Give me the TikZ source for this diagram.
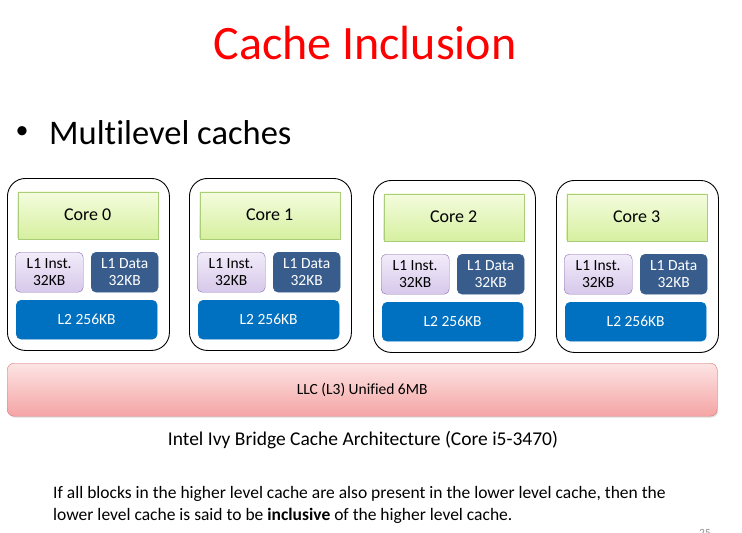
\documentclass[tikz,border=0pt]{standalone}
\usepackage{fontspec}
\setmainfont{Carlito}[Ligatures={NoCommon}]
\usetikzlibrary{shadows}
\definecolor{titlered}{RGB}{255,0,0}
\definecolor{coregreenA}{RGB}{244,252,222}
\definecolor{coregreenB}{RGB}{214,240,160}
\definecolor{coregreenD}{RGB}{170,205,120}
\definecolor{instA}{RGB}{242,236,250}
\definecolor{instB}{RGB}{214,200,234}
\definecolor{instD}{RGB}{140,110,175}
\definecolor{datablue}{RGB}{56,92,140}
\definecolor{ltwoblue}{RGB}{0,112,192}
\definecolor{llcA}{RGB}{253,228,228}
\definecolor{llcB}{RGB}{245,164,164}
\definecolor{llcD}{RGB}{215,120,120}
\tikzset{
  corebox/.style={draw=black, line width=0.9pt, rounded corners=18pt, anchor=north west,
    minimum width=162pt, minimum height=172pt, inner sep=0pt},
  cpubox/.style={draw=coregreenD, top color=coregreenA, bottom color=coregreenB, anchor=north west,
    minimum width=140pt, minimum height=47pt, inner sep=0pt, font=\fontsize{18}{20}\selectfont},
  smalltext/.style={font=\fontsize{15.5}{17}\selectfont},
  instbox/.style={draw=instD, top color=instA, bottom color=instB, rounded corners=5pt, anchor=north west,
    minimum width=68pt, minimum height=40pt, inner sep=0pt, align=center, smalltext},
  databox/.style={draw=datablue, fill=datablue, text=white, rounded corners=5pt, anchor=north west,
    minimum width=67pt, minimum height=40pt, inner sep=0pt, align=center, smalltext},
  ltwobox/.style={draw=ltwoblue, fill=ltwoblue, text=white, rounded corners=5pt, anchor=north west,
    minimum width=141pt, minimum height=39pt, inner sep=0pt, smalltext},
  llcbox/.style={draw=llcD, top color=llcA, bottom color=llcB, rounded corners=7pt, anchor=north west,
    minimum width=710pt, minimum height=53pt, inner sep=0pt, smalltext,
    drop shadow={shadow xshift=1pt, shadow yshift=-1.5pt, opacity=0.25}},
}
\begin{document}
\begin{tikzpicture}[x=1pt, y=-1pt]
\useasboundingbox (0,0) rectangle (742,533);
% heading and bullet
\node[text=titlered, font=\fontsize{48}{52}\selectfont] (title) at (365,43) {Cache Inclusion};
\node[font=\fontsize{26}{30}\selectfont] (dot) at (22,133) {\textbullet};
\node[anchor=west, inner sep=0pt, font=\fontsize{34.5}{38}\selectfont] (bullet) at (49,133) {Multilevel caches};
% four cores, each with its private L1 and L2
\foreach \i/\x/\y in {0/7/178, 1/189/178, 2/373/180, 3/556/180}{
  \node[corebox] (core\i) at (\x,\y) {};
  \node[cpubox] (cpu\i) at (\x+10.5,\y+13.5) {Core \i};
  \node[instbox] (inst\i) at (\x+8,\y+74) {L1 Inst.\\32KB};
  \node[databox] (data\i) at (\x+84,\y+74) {L1 Data\\32KB};
  \node[ltwobox] (ltwo\i) at (\x+9,\y+122) {L2 256KB};
}
% shared last level cache
\node[llcbox] (llc) at (7,363) {LLC (L3) Unified 6MB};
\node[font=\fontsize{19.5}{22}\selectfont] (caption) at (363,440) {Intel Ivy Bridge Cache Architecture (Core i5-3470)};
\node[anchor=north west, align=left, inner sep=0pt, font=\fontsize{17.5}{22}\selectfont] (note) at (53,486)
  {If all blocks in the higher level cache are also present in the lower level cache, then the\\
   lower level cache is said to be \textbf{inclusive} of the higher level cache.};
\node[text=black!45, font=\fontsize{11}{12}\selectfont, anchor=north] (pagenum) at (705,526) {25};
\end{tikzpicture}
\end{document}
